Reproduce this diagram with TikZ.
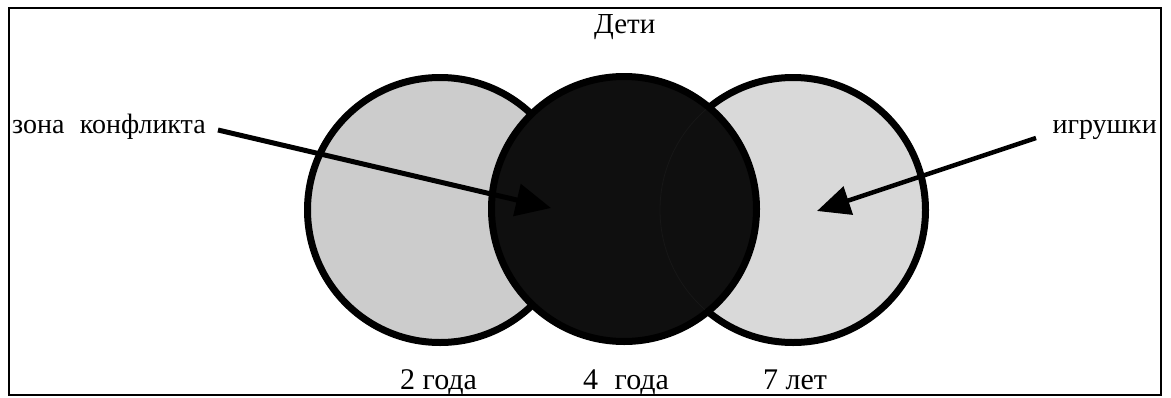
\documentclass[tikz,border=0pt]{standalone}
\usepackage{fontspec}
\setmainfont{Liberation Serif}
\usetikzlibrary{arrows.meta}
\definecolor{lgray}{HTML}{CCCCCC}
\definecolor{rgray}{HTML}{D9D9D9}
\definecolor{dark}{HTML}{0F0F0F}
\definecolor{faint}{HTML}{171717}
\tikzset{
  ring/.style={circle, draw=black, line width=7pt, inner sep=0pt, minimum size=265pt},
  lbl/.style={inner sep=0pt, font=\fontsize{28}{30}\selectfont},
  agelbl/.style={inner sep=0pt, font=\fontsize{30}{34}\selectfont},
  bigarrow/.style={line width=5pt, -{Triangle[length=35pt,width=32pt]}},
}
\begin{document}
\begin{tikzpicture}[x=1pt,y=-1pt]
\useasboundingbox (0,0) rectangle (1171,397);
\draw[line width=2.2pt] (9,8) rectangle (1161,395);
% circles
\node[ring, fill=lgray] (c2) at (440,210) {};
\node[ring, fill=rgray] (c7) at (793,210) {};
\node[ring, fill=dark] (c4) at (624,209) {};
\begin{scope}
  \clip (624,209) circle (129pt);
  \draw[faint, line width=0.8pt] (793,210) circle (133pt);
\end{scope}
% labels
\node[inner sep=0pt, font=\fontsize{29}{32}\selectfont, anchor=base west] (deti) at (594,33) {Дети};
\node[lbl, anchor=base west] (konf) at (12,133) {зона\hspace{0.3em} конфликта};
\node[lbl, anchor=base east] (toys) at (1157,133) {игрушки};
\node[agelbl, anchor=base west] (a2) at (400,389) {2 года};
\node[agelbl, anchor=base west] (a4) at (583,389) {4\hspace{0.3em} года};
\node[agelbl, anchor=base west] (a7) at (763,389) {7 лет};
% arrows
\coordinate (s1) at (218,130);
\coordinate (t1) at (551,208);
\coordinate (s2) at (1036,138);
\coordinate (t2) at (817,211);
\draw[bigarrow] (s1) -- (t1);
\draw[bigarrow, line width=4.5pt, -{Triangle[length=33pt,width=29pt]}] (s2) -- (t2);
\end{tikzpicture}
\end{document}
